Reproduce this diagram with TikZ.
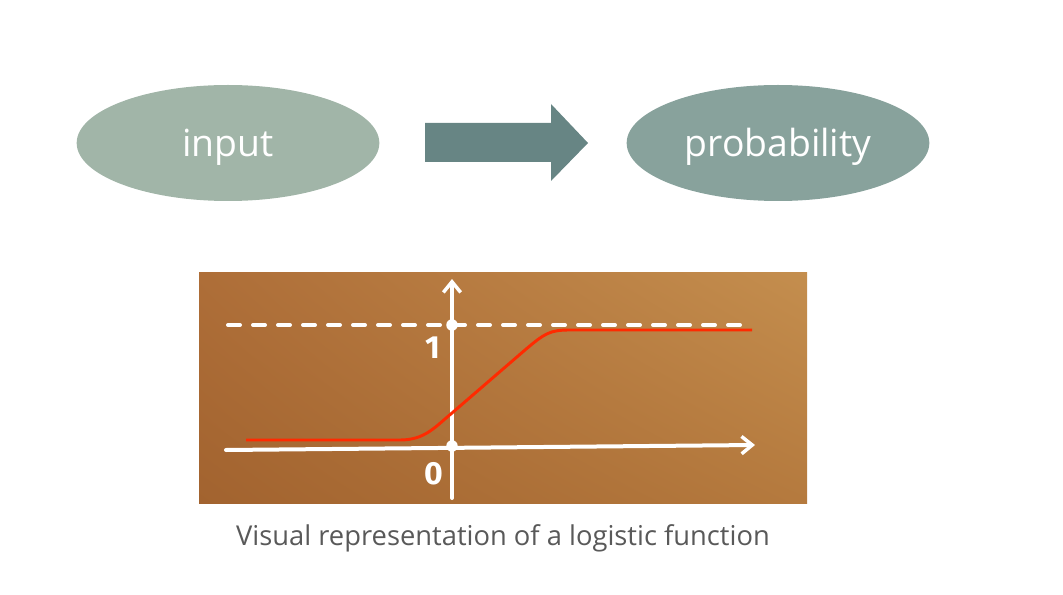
\documentclass[tikz,border=0pt]{standalone}
\usepackage{fontspec}
\setmainfont{Open Sans}
\newfontfamily\digitfont{Fira Sans}
\usetikzlibrary{shapes.geometric,arrows.meta,shadings}
\definecolor{sagelight}{HTML}{A1B5A8}
\definecolor{sagedark}{HTML}{88A29C}
\definecolor{arrowteal}{HTML}{678584}
\definecolor{boardul}{HTML}{AE6E38}
\definecolor{boardur}{HTML}{C48E4E}
\definecolor{boardll}{HTML}{A2632F}
\definecolor{boardlr}{HTML}{B57A3E}
\definecolor{curvered}{HTML}{FF2A00}
\definecolor{captiongray}{HTML}{595959}
\tikzset{
  blob/.style={ellipse, minimum width=227pt, minimum height=87pt, inner sep=0pt},
  blobtext/.style={text=white, font=\fontsize{28}{30}\selectfont},
  chalk/.style={draw=white, line width=3pt, line cap=round},
  chalktip/.style={-{Straight Barb[length=8pt,width=13pt,line width=2.6pt]}},
  tick/.style={text=white, font=\digitfont\bfseries\fontsize{24}{26}\selectfont}
}
\begin{document}
\begin{tikzpicture}[x=0.75pt,y=-0.75pt]
\useasboundingbox (0,0) rectangle (1063,595);

% top row: input => probability
\node[blob, fill=sagelight] (input) at (228,143) {};
\node[blob, fill=sagedark] (prob) at (778,143) {};
\node[blobtext] (inputtext) at (228,147) {input};
\node[blobtext] (probtext) at (778,147) {probability};
\fill[arrowteal] (425,123) -- (551,123) -- (551,104) -- (588,143)
	-- (551,181) -- (551,162) -- (425,162) -- cycle;

% chalkboard
\shade[upper left=boardul, upper right=boardur, lower left=boardll, lower right=boardlr]
	(199,272) rectangle (807,503);
\coordinate (ybot) at (452,498);
\coordinate (ytop) at (452,279);
\coordinate (xleft) at (226,450);
\coordinate (xright) at (755,445);
\coordinate (one) at (452,325);
\coordinate (zero) at (452,446);
\draw[chalk, dash pattern=on 9pt off 9.75pt] (228,325) -- (740,325);
\draw[chalk, chalktip] (ybot) -- (ytop);
\draw[chalk, chalktip] (xleft) -- (xright);
\foreach \c in {one,zero}
	\fill[white] (\c) circle (4.3pt);
\draw[curvered, line width=2.2pt] (246,440) -- (400,440)
	.. controls (425,440) and (435,427) .. (452,413) -- (525,350)
	.. controls (545,333) and (550,330) .. (570,330) -- (752,330);
\node[tick] (lone) at (433,348) {1};
\node[tick] (lzero) at (434,474) {0};

% caption
\node[text=captiongray, font=\fontsize{20.5}{24}\selectfont] (cap) at (503,538)
	{Visual representation of a logistic function};
\end{tikzpicture}
\end{document}
